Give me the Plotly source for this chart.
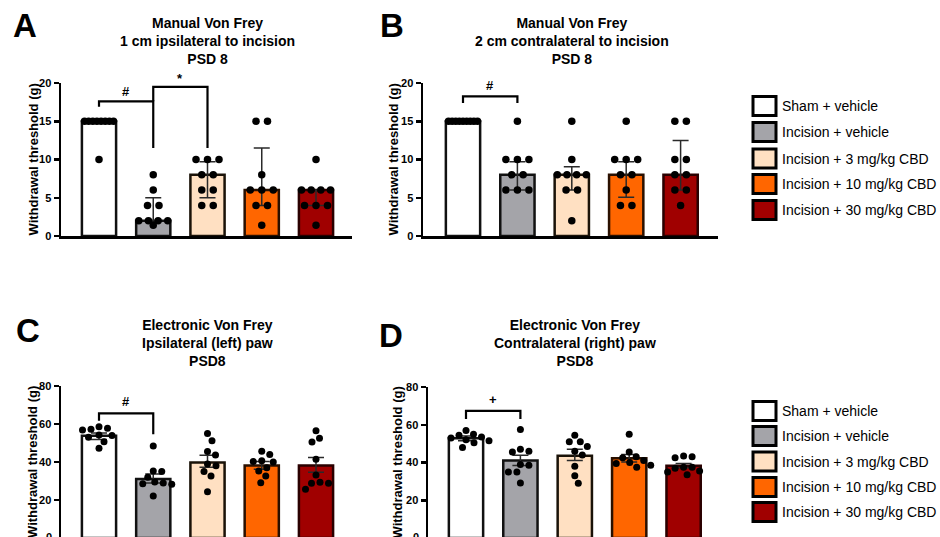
import plotly.graph_objects as go

# ---------------- data ----------------
groups = ["Sham + vehicle", "Incision + vehicle", "Incision + 3 mg/kg CBD",
          "Incision + 10 mg/kg CBD", "Incision + 30 mg/kg CBD"]
colors = ["#FFFFFF", "#A4A4A9", "#FFE0C2", "#FF6600", "#A00000"]
edge_colors = ["#111111", "#111111", "#1a1208", "#2a1000", "#2a0000"]

# Panel A – Manual Von Frey, 1 cm ipsilateral (median, IQR)
a_points = [[15, 15, 15, 15, 15, 15, 15, 15, 10],
            [8, 6, 4, 4, 2, 2, 2, 2, 1.4],
            [10, 10, 10, 8, 8, 6, 6, 4, 4],
            [15, 15, 8, 6, 6, 6, 4, 4, 1.4],
            [10, 6, 6, 6, 6, 4, 4, 4, 1.4]]
a_bar = [15, 2, 8, 6, 6]
a_lo = [15, 2, 5, 4, 4]
a_hi = [15, 5, 9.7, 11.5, 6]

# Panel B – Manual Von Frey, 2 cm contralateral (median, IQR)
b_points = [[15, 15, 15, 15, 15, 15, 15, 15, 15],
            [15, 10, 10, 10, 8, 8, 6, 6, 6],
            [15, 10, 8, 8, 8, 8, 6, 6, 2],
            [15, 10, 10, 10, 8, 8, 6, 4, 4],
            [15, 15, 10, 10, 8, 8, 6, 6, 4]]
b_bar = [15, 8, 8, 8, 8]
b_lo = [15, 6, 6, 5.05, 6]
b_hi = [15, 9.7, 9.05, 9.7, 12.5]

# Panel C – Electronic Von Frey, ipsilateral (mean, SEM)
c_points = [[58.6, 57.7, 57.2, 56.8, 54.2, 54.0, 53.0, 50.7, 47.2],
            [48.4, 35.3, 35.0, 32.0, 29.5, 29.0, 28.5, 28.3, 22.1],
            [55.0, 51.2, 45.5, 43.7, 39.0, 38.0, 35.0, 32.6, 24.4],
            [45.7, 44.0, 40.6, 40.2, 40.0, 37.0, 35.3, 32.6, 29.1],
            [56.5, 52.5, 50.5, 41.4, 33.2, 29.3, 28.8, 28.8, 25.6]]
c_bar = [53.8, 31.0, 39.8, 38.1, 38.1]
c_lo = [51.8, 29.0, 37.2, 36.2, 34.6]
c_hi = [55.3, 33.7, 43.6, 40.2, 42.4]

# Panel D – Electronic Von Frey, contralateral (mean, SEM)
d_points = [[57.0, 55.0, 54.5, 53.5, 53.0, 52.0, 51.5, 50.5, 48.0],
            [57.5, 47.0, 46.0, 45.5, 39.0, 38.5, 35.0, 35.0, 29.2],
            [54.5, 51.0, 51.0, 48.5, 46.0, 44.0, 38.0, 33.0, 29.0],
            [55.0, 45.5, 43.0, 42.5, 41.0, 40.0, 39.5, 38.5, 37.5],
            [43.5, 43.0, 42.5, 37.5, 37.5, 37.0, 35.5, 35.0, 33.5]]
d_bar = [52.8, 41.0, 43.6, 42.2, 38.3]
d_lo = [51.5, 38.4, 41.0, 40.2, 37.2]
d_hi = [54.1, 43.9, 47.0, 44.2, 39.5]

titles = ["Manual Von Frey<br>1 cm ipsilateral to incision<br>PSD 8",
          "Manual Von Frey<br>2 cm contralateral to incision<br>PSD 8",
          "Electronic Von Frey<br>Ipsilateral (left) paw<br>PSD8",
          "Electronic Von Frey<br>Contralateral (right) paw<br>PSD8"]
letters = ["A", "B", "C", "D"]
y_title = "Withdrawal threshold (g)"
ticks_manual = [0, 5, 10, 15, 20]
ticks_elec = [0, 20, 40, 60, 80]

# significance brackets: (from group, to group, bar height, left leg end, right leg end, symbol, symbol height)
brackets = [
    [(0, 1, 17.6, 16.9, 11.5, "#", 18.9), (1, 2, 19.5, 17.6, 11.5, "*", 20.6)],
    [(0, 1, 18.25, 17.4, 17.4, "#", 19.7)],
    [(0, 1, 65.6, 61.7, 54.6, "#", 71.6)],
    [(0, 1, 67.3, 63.0, 63.0, "+", 73.5)],
]

# ---------------- layout geometry (pixels) ----------------
W, H = 940, 537
# x_left, x_right, first category centre, category step, y px of top value, y px of zero, top value
geo = [
    (61, 352, 99, 54.25, 83, 236, 20),
    (423, 718, 463, 54.4, 83, 236, 20),
    (61, 352, 99, 54.25, 386, 538, 80),
    (428, 723, 466, 54.4, 387, 538, 80),
]
panel_data = [(a_points, a_bar, a_lo, a_hi), (b_points, b_bar, b_lo, b_hi),
              (c_points, c_bar, c_lo, c_hi), (d_points, d_bar, d_lo, d_hi)]
title_pos = [(207, 41), (572, 41), (207, 343), (575, 343)]
letter_pos = [(25, 26), (392, 26), (28, 330), (391, 335)]
ytitle_x = [33, 393, 32, 397]


def row_offsets(vals, step):
    """Spread equal values in horizontal rows (GraphPad-like), in category units."""
    offs = [0.0] * len(vals)
    seen = {}
    for i, v in enumerate(vals):
        seen.setdefault(v, []).append(i)
    for v, idx in seen.items():
        n = len(idx)
        if n == 1:
            continue
        s = min(11.5, 29.0 / (n - 1))
        for k, i in enumerate(idx):
            offs[i] = ((k - (n - 1) / 2) * s) / step
    return offs


def swarm_offsets(vals, ppu, step, d=8.3):
    placed = []
    offs = [0.0] * len(vals)
    order = sorted(range(len(vals)), key=lambda i: -vals[i])
    for i in order:
        y = vals[i] * ppu
        xsel = 0.0
        found = False
        for k in range(0, 400):
            for sgn in ([0] if k == 0 else [1, -1]):
                x = sgn * k * 0.5
                if all((x - px) ** 2 + (y - py) ** 2 >= d * d for px, py in placed):
                    xsel = x
                    found = True
                    break
            if found:
                break
        placed.append((xsel, y))
        offs[i] = xsel / step
    return offs


fig = go.Figure()
shapes = []
annotations = []
FONT = "Liberation Sans, Arial, sans-serif"

for p in range(4):
    x0, x1, c0, step, ytop, yzero, vtop = geo[p]
    ppu = (yzero - ytop) / vtop
    pts, bars, lo, hi = panel_data[p]
    ax = "" if p == 0 else str(p + 1)
    xref, yref = "x" + ax, "y" + ax
    cats = list(range(len(groups)))

    fig.add_trace(go.Bar(
        x=cats, y=bars, width=0.63,
        marker=dict(color=colors, line=dict(color=edge_colors, width=2.5)),
        error_y=dict(type="data", symmetric=False,
                     array=[h - b for h, b in zip(hi, bars)],
                     arrayminus=[b - l for b, l in zip(bars, lo)],
                     color="#2a2a2a", thickness=1.5, width=8),
        xaxis=xref, yaxis=yref, hoverinfo="skip", showlegend=False))

    xs, ys = [], []
    for g in cats:
        if p < 2:
            offs = row_offsets(pts[g], step)
        else:
            offs = swarm_offsets(pts[g], ppu, step)
        xs += [g + o for o in offs]
        ys += pts[g]
    fig.add_trace(go.Scatter(
        x=xs, y=ys, mode="markers",
        marker=dict(color="black", size=7.5 if p < 2 else 7),
        xaxis=xref, yaxis=yref, hoverinfo="skip", showlegend=False, cliponaxis=False))

    ybottom_px = min(yzero, H)
    yr0 = (yzero - ybottom_px) / ppu
    layout_x = dict(domain=[x0 / W, x1 / W],
                    range=[(x0 - c0) / step, (x1 - c0) / step],
                    showline=(yzero <= H), linecolor="black", linewidth=2.5,
                    showticklabels=False, ticks="", showgrid=False, zeroline=False,
                    anchor=yref, fixedrange=True, automargin=False)
    tv = ticks_manual if p < 2 else ticks_elec
    layout_y = dict(domain=[1 - ybottom_px / H, 1 - ytop / H],
                    range=[yr0, vtop], showline=True, linecolor="black", linewidth=2.5,
                    ticks="outside", ticklen=5, tickwidth=2.5, tickcolor="black",
                    tickvals=tv, ticktext=[str(t) for t in tv],
                    tickfont=dict(family=FONT, size=11, color="black", weight="bold"),
                    showgrid=False, zeroline=False, anchor=xref, fixedrange=True,
                    automargin=False)
    fig.update_layout(**{"xaxis" + ax: layout_x, "yaxis" + ax: layout_y})

    if yzero > H:
        annotations.append(dict(x=(x0 - 7) / W, y=0, xref="paper", yref="paper", text="<b>0</b>",
                                showarrow=False, xanchor="right", yanchor="middle",
                                font=dict(family=FONT, size=11, color="black")))

    # brackets
    for (g1, g2, yb, yl, yr, sym, ys_) in brackets[p]:
        shapes.append(dict(type="path", xref=xref, yref=yref,
                           path=f"M {g1},{yl} L {g1},{yb} L {g2},{yb} L {g2},{yr}",
                           line=dict(color="black", width=2.2)))
        sym_px = yzero - ys_ * ppu
        annotations.append(dict(x=(g1 + g2) / 2, y=1 - sym_px / H, xref=xref, yref="paper",
                                text=f"<b>{sym}</b>", showarrow=False,
                                xanchor="center", yanchor="middle",
                                font=dict(family=FONT, size=13, color="black")))

    # titles, letters, y titles
    tx, ty = title_pos[p]
    annotations.append(dict(x=tx / W, y=1 - ty / H, xref="paper", yref="paper",
                            text="<b>" + titles[p].replace("<br>", "</b><br><b>") + "</b>",
                            showarrow=False, align="center", xanchor="center", yanchor="middle",
                            font=dict(family=FONT, size=14, color="black")))
    lx, ly = letter_pos[p]
    annotations.append(dict(x=lx / W, y=1 - ly / H, xref="paper", yref="paper",
                            text=f"<b>{letters[p]}</b>", showarrow=False,
                            xanchor="center", yanchor="middle",
                            font=dict(family=FONT, size=33, color="black")))
    ymid = (ytop + yzero) / 2
    annotations.append(dict(x=ytitle_x[p] / W, y=1 - ymid / H, xref="paper", yref="paper",
                            text=f"<b>{y_title}</b>", textangle=-90, showarrow=False,
                            xanchor="center", yanchor="middle",
                            font=dict(family=FONT, size=13, color="black")))

# legends (two copies)
for leg_y in ([106, 132, 158.5, 184, 210], [411, 436, 461.5, 487, 512]):
    for g, yc in enumerate(leg_y):
        shapes.append(dict(type="rect", xref="paper", yref="paper",
                           x0=753 / W, x1=776 / W, y0=1 - (yc + 9.5) / H, y1=1 - (yc - 9.5) / H,
                           fillcolor=colors[g], line=dict(color="black", width=3)))
        annotations.append(dict(x=780 / W, y=1 - yc / H, xref="paper", yref="paper",
                                text=groups[g], showarrow=False, xanchor="left",
                                yanchor="middle",
                                font=dict(family=FONT, size=14, color="black")))

fig.update_layout(width=W, height=H, margin=dict(l=0, r=0, t=0, b=0, autoexpand=False),
                  paper_bgcolor="white", plot_bgcolor="rgba(0,0,0,0)",
                  showlegend=False, barmode="overlay", bargap=0,
                  shapes=shapes, annotations=annotations,
                  font=dict(family=FONT, color="black"))

fig.write_html("out.html", config={"displayModeBar": False, "staticPlot": True},
               post_script="document.body.style.margin='0px';document.body.style.overflow='hidden';")
